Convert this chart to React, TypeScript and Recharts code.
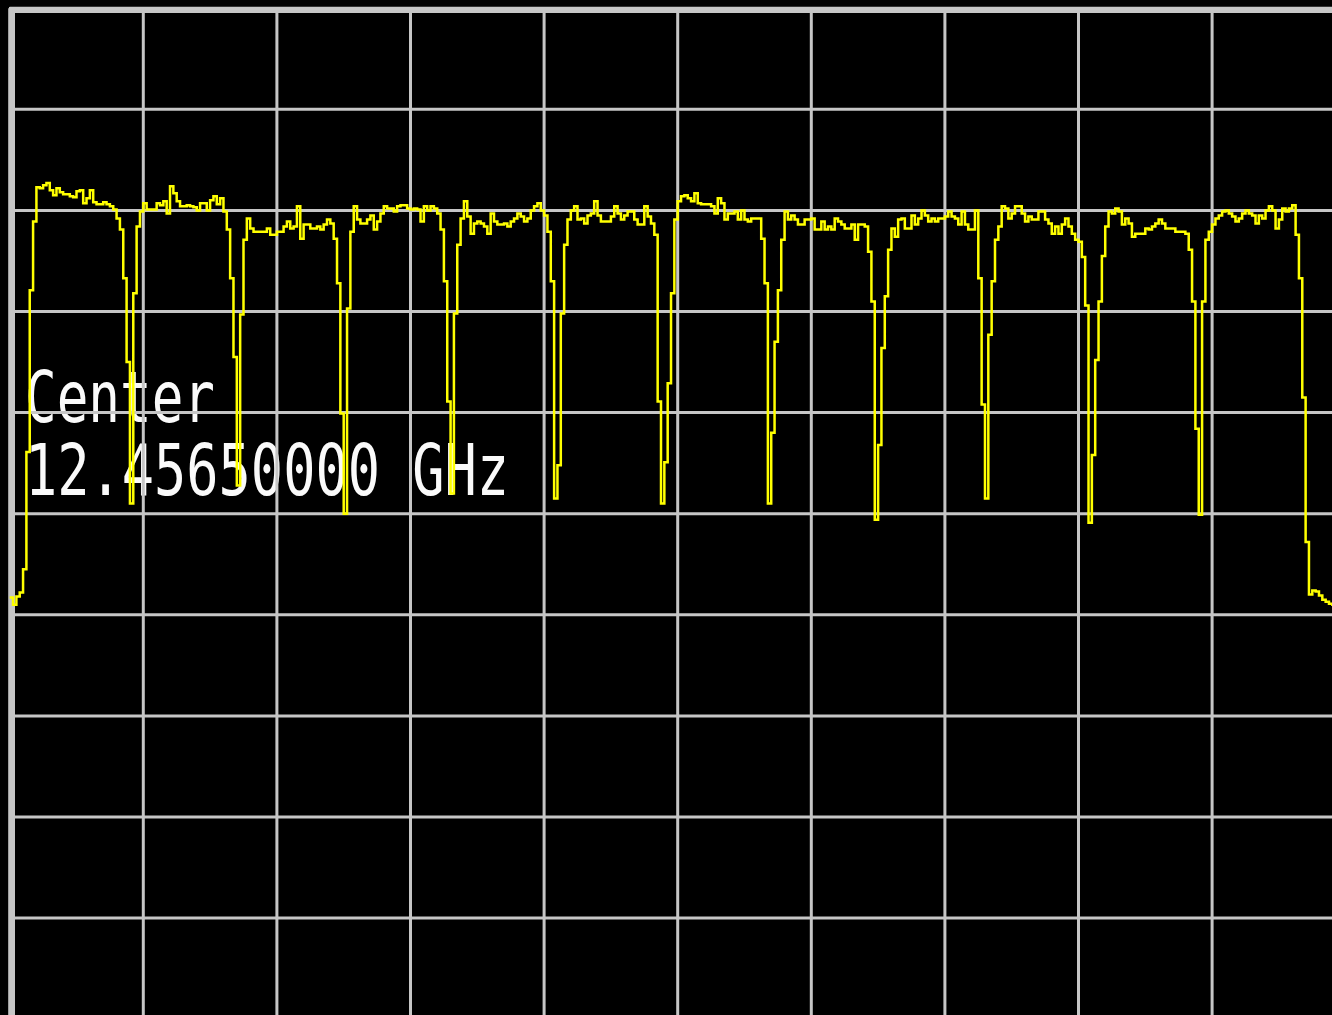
import { LineChart, Line, XAxis, YAxis, CartesianGrid } from "recharts";

// Spectrum trace, 401 sweep points, level in dB (ref 0 dB, 10 dB/div).
// Split per transponder: plateau followed by the notch that ends it.
const lowerSkirt = [-58.3, -59.0, -58.2, -57.8, -55.5, -43.9, -27.9, -21.1, -17.7];
const tp1 = [
  -17.8, -17.5, -17.3, -18.0, -18.5, -17.8, -18.2, -18.4, -18.4, -18.6, -18.7, -18.1,
  -18.0, -19.3, -18.8, -18.0, -19.2, -19.4, -19.4, -19.2, -19.4, -19.6, -19.9,
  -20.8, -21.9, -26.7, -35.0, -49.0, -28.2, -21.6, -20.1, -19.3,
];
const tp2 = [
  -19.9, -19.9, -19.9, -19.3, -19.5, -19.1, -20.3, -17.6, -18.3, -19.1, -19.6, -19.6,
  -19.5, -19.6, -19.7, -20.0, -19.3, -19.3, -20.0, -19.0, -18.6, -19.4, -18.8,
  -20.1, -21.9, -26.7, -34.5, -47.2, -30.3, -22.9, -20.8,
];
const tp3 = [
  -21.8, -22.1, -22.1, -22.1, -22.1, -21.8, -22.4, -22.4, -22.1, -22.1, -21.6, -21.1,
  -21.8, -21.6, -19.6, -22.8, -21.4, -21.4, -21.8, -21.8, -21.6, -21.9, -21.4, -20.9,
  -21.3, -22.8,
  -27.2, -40.1, -50.0, -29.7, -22.1, -19.6, -20.9,
];
const tp4 = [
  -21.3, -21.3, -20.9, -20.5, -21.9, -21.1, -20.3, -19.6, -19.8, -19.8, -20.1, -19.6,
  -19.5, -19.5, -19.8, -19.9, -19.8, -19.9, -21.1, -19.6, -20.0, -19.6, -19.8, -20.3,
  -21.9,
  -27.0, -38.9, -48.0, -30.2, -23.4, -20.8,
];
const tp5 = [
  -19.1, -20.6, -22.3, -21.3, -21.1, -21.3, -21.6, -22.3, -20.3, -21.1, -21.4, -21.4,
  -21.3, -21.6, -21.1, -20.8, -20.3, -20.6, -21.1, -20.8, -20.0, -19.6, -19.3, -20.0,
  -20.5,
  -22.1, -27.0, -48.5, -45.2, -30.2, -23.4, -20.9, -20.0,
];
const tp6 = [
  -19.6, -20.9, -20.8, -21.3, -20.5, -20.3, -19.1, -20.5, -21.1, -21.1, -21.1, -20.6,
  -19.6, -20.3, -20.9, -20.5, -20.1, -20.1, -20.9, -21.4, -21.4, -19.6, -20.6, -21.3,
  -22.4,
  -38.9, -49.0, -44.9, -37.1, -28.2, -20.9, -19.1,
];
const tp7 = [
  -18.6, -18.5, -18.8, -19.1, -18.3, -19.3, -19.4, -19.4, -19.4, -19.6, -20.3, -18.8,
  -19.3, -20.9, -20.3, -20.3, -20.1, -20.9, -20.0, -20.9, -21.1, -20.8, -20.8, -20.8,
  -22.8, -27.2, -49.0, -42.0, -33.0, -27.9, -22.9, -20.1,
];
const tp8 = [
  -20.9, -20.5, -20.9, -21.4, -21.4, -20.9, -20.9, -20.8, -21.9, -21.9, -21.1, -21.9,
  -21.6, -21.9, -20.8, -21.1, -21.4, -21.8, -21.8, -21.4, -22.9, -21.4, -21.4, -21.6,
  -24.1, -29.0, -50.6, -43.2, -33.6, -28.5, -23.9, -21.8, -22.6,
];
const tp9 = [
  -20.9, -20.8, -21.8, -21.8, -20.5, -21.4, -20.8, -20.0, -20.5, -21.1, -20.8, -21.1,
  -20.8, -20.8, -20.6, -20.1, -20.6, -20.8, -21.4, -20.1, -21.4, -21.9, -21.9, -20.0,
  -26.7, -39.2, -48.5, -32.3, -27.0, -22.9, -21.6,
];
const tp10 = [
  -19.6, -19.8, -20.8, -20.3, -19.6, -19.6, -20.3, -21.1, -20.6, -20.9, -20.9, -20.1,
  -20.1, -20.9, -21.3, -22.3, -21.6, -22.3, -21.4, -20.8, -21.6, -22.3, -22.9, -23.1,
  -24.6, -29.4, -50.9, -44.2, -34.8, -29.0, -24.5, -21.6,
];
const tp11 = [
  -20.1, -20.3, -19.8, -20.1, -21.4, -20.8, -21.3, -22.6, -22.3, -22.3, -22.3, -21.8,
  -21.9, -21.6, -21.3, -20.9, -21.3, -21.8, -21.8, -21.8, -22.1, -22.1, -22.1, -22.3,
  -23.9,
  -29.0, -41.6, -50.1, -29.0, -22.9, -22.1, -21.4,
];
const tp12 = [
  -20.8, -20.5, -20.1, -20.0, -20.3, -20.6, -21.1, -20.8, -20.3, -20.0, -20.3, -20.5,
  -21.3, -20.5, -20.8, -20.0, -19.6, -20.0, -21.8, -20.9, -19.8, -20.1, -19.8, -19.5,
];
const upperSkirt = [
  -22.4, -26.7, -38.5, -52.8, -58.0, -57.6, -57.7, -58.1, -58.5, -58.7, -58.9, -59.0,
  -59.0, -58.8, -59.1, -58.9,
];

const X_TICKS = [0, 40, 80, 120, 160, 200, 240, 280, 320, 360, 400];
const Y_TICKS = [0, -10, -20, -30, -40, -50, -60, -70, -80, -90, -100];

const CENTER_LABEL = "Center";
const CENTER_FREQ = "12.45650000 GHz";

const trace = [
  ...lowerSkirt, ...tp1, ...tp2, ...tp3, ...tp4, ...tp5, ...tp6,
  ...tp7, ...tp8, ...tp9, ...tp10, ...tp11, ...tp12, ...upperSkirt,
].map((level, i) => ({ i, level }));

const GRID = "#c6c6c6";
const TRACE_COLOR = "#ffff00";

export default function App() {
  return (
    <div
      style={{
        position: "fixed",
        left: 0,
        top: 0,
        width: 1332,
        height: 1015,
        overflow: "hidden",
        background: "#000",
      }}
    >
      {/* annotation sits under the grid and the trace */}
      <svg width={1332} height={1015} style={{ position: "absolute", left: 0, top: 0 }}>
        <g fontFamily="'DejaVu Sans Mono', monospace" fontSize={71} fill="#fafafa">
          <text x={25} y={422} textLength={190} lengthAdjust="spacingAndGlyphs">
            {CENTER_LABEL}
          </text>
          <text x={25} y={495} textLength={484} lengthAdjust="spacingAndGlyphs">
            {CENTER_FREQ}
          </text>
        </g>
      </svg>

      {/* heavy graticule frame (left and top edges) */}
      <div
        style={{
          position: "absolute",
          left: 9,
          top: 7,
          width: 1400,
          height: 1100,
          borderLeft: `6px solid ${GRID}`,
          borderTop: `6px solid ${GRID}`,
        }}
      />

      <div style={{ position: "absolute", left: 0, top: 0 }}>
        <LineChart
          width={1360}
          height={1040}
          data={trace}
          margin={{ top: 8.2, right: 14.3, bottom: 20.8, left: 9.7 }}
        >
          <CartesianGrid stroke={GRID} strokeWidth={3} />
          <XAxis hide type="number" dataKey="i" domain={[0, 400]} ticks={X_TICKS} />
          <YAxis hide type="number" domain={[-100, 0]} ticks={Y_TICKS} />
          <Line
            type="stepAfter"
            dataKey="level"
            stroke={TRACE_COLOR}
            strokeWidth={2.5}
            dot={false}
            activeDot={false}
            isAnimationActive={false}
          />
        </LineChart>
      </div>
    </div>
  );
}
